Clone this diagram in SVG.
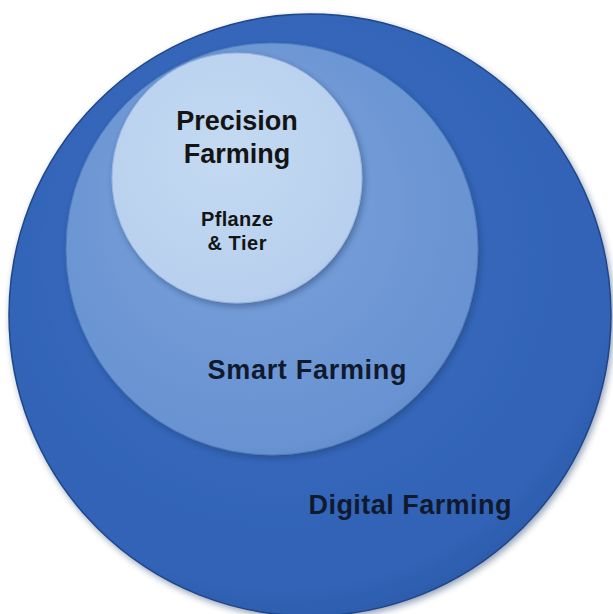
<svg xmlns="http://www.w3.org/2000/svg" width="613" height="614" viewBox="0 0 613 614">
  <style>
    .lbl { font-family: "Liberation Sans", Arial, sans-serif; font-weight: bold; text-anchor: middle; }
    .dark { fill: #101a2e; }
    .black { fill: #141414; }
  </style>
  <defs>
    <radialGradient id="gOuter" cx="0.45" cy="0.4" r="0.65">
      <stop offset="0" stop-color="#3a6cc0"/>
      <stop offset="0.85" stop-color="#3163b6"/>
      <stop offset="1" stop-color="#2a58a8"/>
    </radialGradient>
    <radialGradient id="gMid" cx="0.45" cy="0.4" r="0.65">
      <stop offset="0" stop-color="#7aa3db"/>
      <stop offset="0.9" stop-color="#6892d1"/>
      <stop offset="1" stop-color="#5f89c9"/>
    </radialGradient>
    <radialGradient id="gIn" cx="0.45" cy="0.4" r="0.65">
      <stop offset="0" stop-color="#c4daf2"/>
      <stop offset="0.9" stop-color="#b8d0ee"/>
      <stop offset="1" stop-color="#a9c3e6"/>
    </radialGradient>
    <filter id="sh" x="-10%" y="-10%" width="120%" height="120%">
      <feGaussianBlur in="SourceAlpha" stdDeviation="3"/>
      <feOffset dx="2" dy="3" result="b"/>
      <feFlood flood-color="#1b3560" flood-opacity="0.45"/>
      <feComposite in2="b" operator="in"/>
      <feMerge><feMergeNode/><feMergeNode in="SourceGraphic"/></feMerge>
    </filter>
  </defs>
  <rect width="613" height="614" fill="#ffffff"/>
  <g id="digital">
    <circle cx="310" cy="315" r="301" fill="url(#gOuter)" stroke="#1f4688" stroke-width="1.5" filter="url(#sh)"/>
    <text class="lbl dark" x="410" y="514" font-size="27" textLength="203" lengthAdjust="spacing">Digital Farming</text>
  </g>
  <g id="smart">
    <circle cx="272" cy="249" r="206" fill="url(#gMid)" stroke="#4f7cbf" stroke-width="1" filter="url(#sh)"/>
    <text class="lbl dark" x="307" y="379" font-size="27" textLength="199" lengthAdjust="spacing">Smart Farming</text>
  </g>
  <g id="precision">
    <circle cx="237" cy="178" r="125" fill="url(#gIn)" stroke="#9ab8e0" stroke-width="1" filter="url(#sh)"/>
    <text class="lbl black" x="237" y="130" font-size="27">Precision</text>
    <text class="lbl black" x="237" y="163" font-size="27">Farming</text>
    <text class="lbl black" x="237" y="225.5" font-size="20" textLength="72" lengthAdjust="spacing">Pflanze</text>
    <text class="lbl black" x="237" y="250" font-size="20" textLength="59" lengthAdjust="spacing">&amp; Tier</text>
  </g>
</svg>
